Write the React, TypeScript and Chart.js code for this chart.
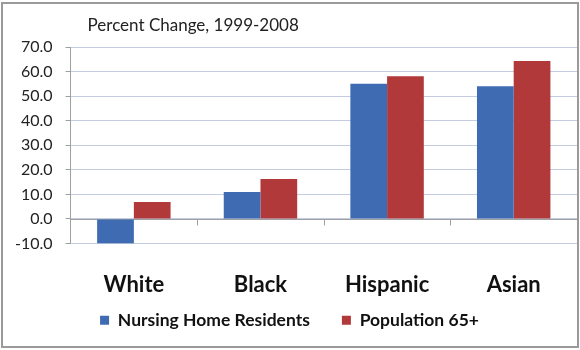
import React, { useEffect, useRef } from "react";
import { Chart, registerables } from "chart.js";

Chart.register(...registerables);

const chartTitle = "Percent Change, 1999-2008";
const categories = ["White", "Black", "Hispanic", "Asian"];
const seriesNames = ["Nursing Home Residents", "Population 65+"];
const nursingHome = [-10.0, 11.0, 55.0, 54.0];
const population65 = [6.9, 16.3, 58.1, 64.3];
const yMin = -10;
const yMax = 70;
const yStep = 10;

const FONT = "Lato, 'Noto Sans', sans-serif";
const BLUE = "#3E6BB1";
const RED = "#B2393A";
const AXIS = "#a0a0a0";

const areaTitlePlugin = {
  id: "areaTitle",
  afterDraw(chart: any) {
    const { ctx, chartArea } = chart;
    ctx.save();
    ctx.font = `17px ${FONT}`;
    ctx.fillStyle = "#222";
    ctx.textAlign = "left";
    ctx.textBaseline = "middle";
    ctx.fillText(chartTitle, chartArea.left + 17, chartArea.top - 21);
    ctx.restore();
  },
};

const zeroAxisPlugin = {
  id: "zeroAxis",
  beforeDatasetsDraw(chart: any) {
    const { ctx, chartArea, scales } = chart;
    const x = scales.x;
    const y0 = Math.round(scales.y.getPixelForValue(0)) + 0.5;
    ctx.save();
    ctx.strokeStyle = AXIS;
    ctx.lineWidth = 1;
    ctx.beginPath();
    ctx.moveTo(chartArea.left, y0);
    ctx.lineTo(chartArea.right, y0);
    for (let i = 0; i < categories.length - 1; i++) {
      const bx = Math.round((x.getPixelForTick(i) + x.getPixelForTick(i + 1)) / 2) + 0.5;
      ctx.moveTo(bx, y0);
      ctx.lineTo(bx, y0 + 6);
    }
    ctx.stroke();
    ctx.restore();
  },
};

export default function App() {
  const canvasRef = useRef<HTMLCanvasElement | null>(null);

  useEffect(() => {
    document.body.style.margin = "0";
    const canvas = canvasRef.current;
    if (!canvas) return;
    const chart = new Chart(canvas, {
      type: "bar",
      data: {
        labels: categories,
        datasets: [
          {
            label: seriesNames[0],
            data: nursingHome,
            backgroundColor: BLUE,
            categoryPercentage: 0.58,
            barPercentage: 1.0,
          },
          {
            label: seriesNames[1],
            data: population65,
            backgroundColor: RED,
            categoryPercentage: 0.58,
            barPercentage: 1.0,
          },
        ],
      },
      options: {
        animation: false,
        responsive: true,
        maintainAspectRatio: false,
        layout: { padding: { top: 47, right: 3, left: 2, bottom: 11 } },
        plugins: {
          title: { display: false },
          tooltip: { enabled: false },
          legend: {
            position: "bottom",
            labels: {
              boxWidth: 9,
              boxHeight: 9,
              padding: 32,
              color: "#111",
              font: { family: FONT, size: 17.5, weight: "bold" },
            },
          },
        },
        scales: {
          x: {
            type: "category",
            position: { y: yMin },
            grid: { display: false, drawTicks: false },
            border: { display: false },
            ticks: {
              color: "#111",
              padding: 28,
              autoSkip: false,
              maxRotation: 0,
              font: { family: FONT, size: 22, weight: "bold" },
            },
          },
          xSpace: {
            type: "category",
            labels: categories,
            position: "bottom",
            grid: { display: false, drawTicks: false },
            border: { display: false },
            ticks: { display: false },
            afterFit: (scale: any) => {
              scale.height = 36;
            },
          },
          y: {
            min: yMin,
            max: yMax,
            ticks: {
              stepSize: yStep,
              autoSkip: false,
              padding: 13,
              color: "#222",
              font: { family: FONT, size: 16 },
              callback: (v: any) => Number(v).toFixed(1),
            },
            grid: {
              color: "#c3cce0",
              tickColor: AXIS,
              tickLength: 5,
              drawTicks: true,
            },
            border: { display: true, color: AXIS, width: 1 },
          },
        },
      },
      plugins: [zeroAxisPlugin, areaTitlePlugin],
    });
    return () => chart.destroy();
  }, []);

  return (
    <div style={{ position: "relative", width: 580, height: 350, background: "#fff" }}>
      <canvas ref={canvasRef} />
      <div
        style={{
          position: "absolute",
          left: 1,
          top: 2,
          width: 574,
          height: 342,
          border: "2px solid #9a9a9a",
          pointerEvents: "none",
        }}
      />
    </div>
  );
}
